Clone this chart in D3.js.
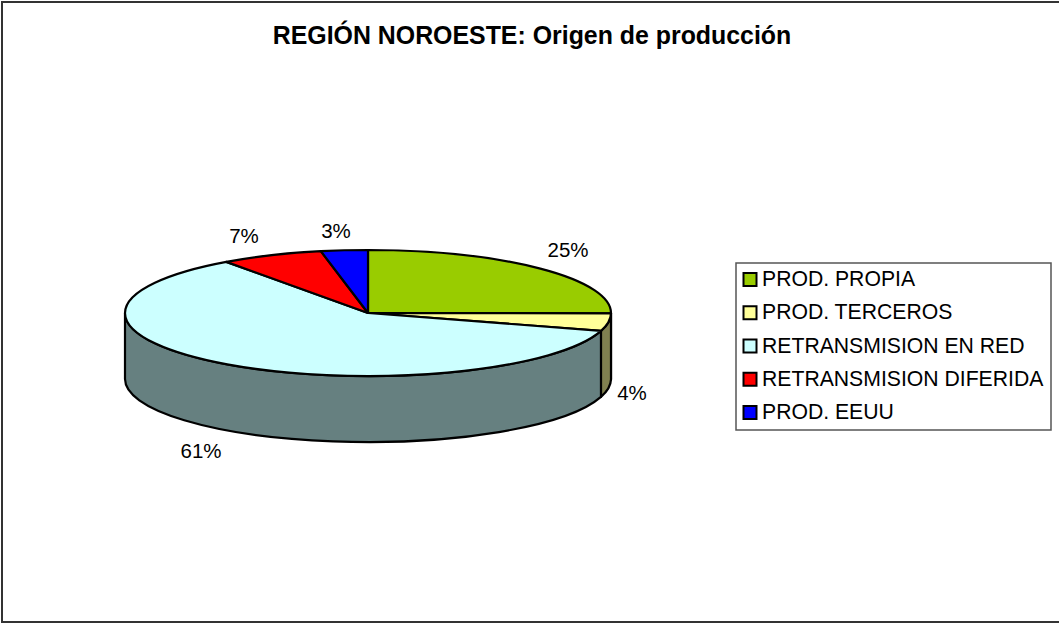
<!DOCTYPE html>
<html><head><meta charset="utf-8">
<style>html,body{margin:0;padding:0;background:#fff}svg{display:block}text{font-family:"Liberation Sans",Arial,sans-serif;fill:#000}</style>
<script src="https://cdn.jsdelivr.net/npm/d3@7/dist/d3.min.js"></script>
</head><body><div id="chart"></div>
<script>
const titleText = "REGIÓN NOROESTE: Origen de producción";
const categories = ["PROD. PROPIA","PROD. TERCEROS","RETRANSMISION EN RED","RETRANSMISION DIFERIDA","PROD. EEUU"];
const values = [25.1, 4.49, 60.5, 6.81, 3.1];
const colors = ["#99CC00","#FFFF99","#CCFFFF","#FF0000","#0000FF"];
const wallColors = ["#668800","#808050","#668080","#800000","#000080"];

const W = 1059, H = 623;
const cx = 368, cy = 313, rx = 243, ry = 63, depth = 66;
const labelPos = [[568,250],[632,393],[201,451],[244,236],[336,231]];

const svg = d3.select("#chart").append("svg").attr("width",W).attr("height",H);
svg.append("path").attr("d",`M${W+2},2H2V622H${W+2}`).attr("fill","#fff").attr("stroke","#333").attr("stroke-width",2);
svg.append("text").attr("x",532).attr("y",44).attr("text-anchor","middle")
  .attr("font-size",24.9).attr("font-weight","bold").text(titleText);

const pie = d3.pie().sort(null)(values);
const px = a => cx + rx*Math.sin(a), py = a => cy - ry*Math.cos(a);
const arcD = d3.arc().innerRadius(0).outerRadius(1);

const sw = 2.2;
// side walls (only the front half of the ellipse, pi/2 .. 3pi/2)
const wallG = svg.append("g");
pie.forEach(d=>{
  const a0 = Math.max(d.startAngle, Math.PI/2), a1 = Math.min(d.endAngle, 3*Math.PI/2);
  if (a1 <= a0) return;
  const large = (a1-a0) > Math.PI ? 1 : 0;
  wallG.append("path")
    .attr("d",`M${px(a0)},${py(a0)}A${rx},${ry} 0 ${large} 1 ${px(a1)},${py(a1)}`+
      `V${py(a1)+depth}A${rx},${ry} 0 ${large} 0 ${px(a0)},${py(a0)+depth}Z`)
    .attr("fill",wallColors[d.index]).attr("stroke","#000").attr("stroke-width",sw).attr("stroke-linejoin","round");
});

// top face
svg.append("g").attr("transform",`translate(${cx},${cy}) scale(${rx},${ry})`)
  .selectAll("path").data(pie).join("path")
  .attr("d",arcD).attr("fill",(d,i)=>colors[i])
  .attr("stroke","#000").attr("stroke-width",sw).attr("vector-effect","non-scaling-stroke").attr("stroke-linejoin","round");

// data labels
const fmt = d3.format(".0f"), total = d3.sum(values);
svg.append("g").selectAll("text").data(values).join("text")
  .attr("x",(d,i)=>labelPos[i][0]).attr("y",(d,i)=>labelPos[i][1]+7)
  .attr("text-anchor","middle").attr("font-size",20.5)
  .text(d=>fmt(d/total*100)+"%");

// legend
const legX=736, legY=263, legW=315, legH=167;
const lg = svg.append("g");
lg.append("rect").attr("x",legX).attr("y",legY).attr("width",legW).attr("height",legH)
  .attr("fill","#fff").attr("stroke","#555").attr("stroke-width",1.5);
const ly = d3.scalePoint().domain(categories).range([279,412]);
const row = lg.selectAll("g").data(categories).join("g").attr("transform",d=>`translate(0,${ly(d)})`);
row.append("rect").attr("x",743.5).attr("y",-6).attr("width",13).attr("height",13)
  .attr("fill",(d,i)=>colors[i]).attr("stroke","#000").attr("stroke-width",2);
row.append("text").attr("x",762).attr("y",7).attr("font-size",21.2).text(d=>d);
</script></body></html>
